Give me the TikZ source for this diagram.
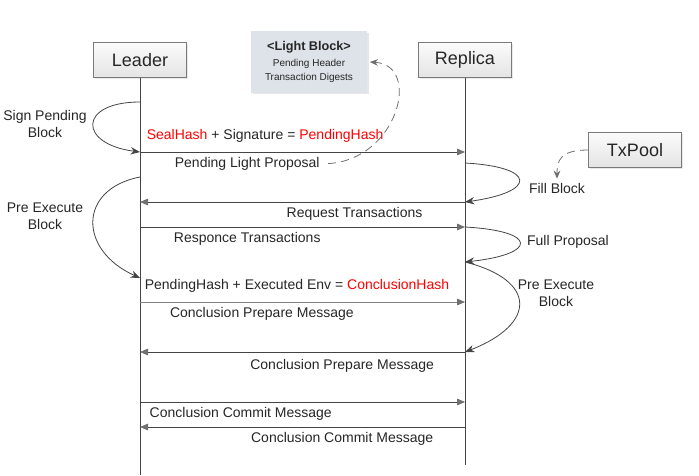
\documentclass[tikz,border=0pt]{standalone}
\usepackage{fontspec}
\setmainfont{Liberation Sans}
\usetikzlibrary{arrows.meta, shadows}
\definecolor{lineDark}{HTML}{444444}
\definecolor{headGray}{HTML}{707070}
\definecolor{boxEdge} {HTML}{7A7A7A}
\definecolor{boxTop}  {HTML}{FBFBFB}
\definecolor{boxBot}  {HTML}{E4E4E4}
\definecolor{lightBlk}{HTML}{DDE3E8}
\definecolor{hashRed} {HTML}{FF0000}
\definecolor{noteGray}{HTML}{6E6E6E}

\begin{document}
\begin{tikzpicture}[
    x=0.75pt, y=-0.75pt,
    every node/.style={font=\fontsize{10.5}{12.5}\selectfont, text=black!85},
    actor/.style={
        draw=boxEdge, top color=boxTop, bottom color=boxBot,
        minimum width=70pt, minimum height=26pt,
        font=\fontsize{13.5}{16}\selectfont,
        drop shadow={opacity=0.18, shadow xshift=1.2pt, shadow yshift=-1.2pt}
    },
    lifeline/.style={draw=lineDark, line width=0.6pt},
    msg/.style={-{Triangle[length=6pt, width=5pt, color=headGray]},
        draw=lineDark, line width=0.6pt},
    selfcall/.style={-{Stealth[length=7pt, width=5.5pt]},
        draw=lineDark, line width=0.6pt},
    note/.style={dash pattern=on 6pt off 4pt, draw=noteGray, line width=0.6pt,
        -{Stealth[length=6pt, width=5pt, color=noteGray]}},
    lbl/.style={align=center, inner sep=2pt},
    under/.style={lbl, below, yshift=-1.5pt},
    over/.style={lbl, above, yshift=5pt}
]

\useasboundingbox (0,0) rectangle (699,475);

% === ACTORS ===
\node[actor] (leader)  at (140,60) {Leader};
\node[actor] (replica) at (465,60) {Replica};
\node[actor] (txpool)  at (635,150) {TxPool};

\node[fill=lightBlk, minimum width=87pt, minimum height=46pt, align=center,
      drop shadow={opacity=0.2, shadow xshift=1.2pt, shadow yshift=-1.2pt}]
    (lightblock) at (309,62)
    {\fontsize{9.5}{11}\selectfont\bfseries <Light Block>\\[-1pt]
     \fontsize{7.5}{9}\selectfont Pending Header\\[-2pt]
     \fontsize{7.5}{9}\selectfont Transaction Digests};

% === LIFELINE POINTS ===
\foreach \n/\y in {a/102, b/152, c/177, d/202, e/227, f/278, g/302, h/352, i/402, j/427, end/475}
    \coordinate (L\n) at (140,\y);
\foreach \n/\y in {b/152, c/163, d/202, e/227, f/262, g/302, h/352, i/402, j/427, end/465}
    \coordinate (R\n) at (465,\y);

\draw[lifeline] (leader.south) -- (Lend);
\draw[lifeline] (replica.south) -- (Rend);

% ── SELF CALLS ─────────────────────────────────────────────────
\draw[selfcall] (La) .. controls +(-62,0) and +(-62,-8) .. (Lb);
\node[lbl] (signlbl) at (45,124) {Sign Pending\\Block};

\draw[selfcall] (Lc) .. controls +(-62,12) and +(-62,-28) .. (Lf);
\node[lbl] (preexecL) at (45,216) {Pre Execute\\Block};

\draw[selfcall] (Rc) .. controls +(72,4) and +(72,-10) .. (Rd);
\node[lbl] (filllbl) at (557,188) {Fill Block};

\draw[selfcall] (Re) .. controls +(73,4) and +(73,-8) .. (Rf);
\node[lbl] (fulllbl) at (568,242) {Full Proposal};

\draw[selfcall] (Rf) .. controls +(72,18) and +(72,-28) .. (Rh);
\node[lbl] (preexecR) at (556,293) {Pre Execute\\Block};

% ── MESSAGES ───────────────────────────────────────────────────
\draw[msg] (Lb) --
    node[over, pos=0.385]
        {\textcolor{hashRed}{SealHash} + Signature = \textcolor{hashRed}{PendingHash}}
    node[under, pos=0.33] (plp) {Pending Light Proposal}
    (Rb);

\draw[msg] (Rd) --
    node[under, pos=0.34] {Request Transactions}
    (Ld);

\draw[msg] (Le) --
    node[under, pos=0.33] {Responce Transactions}
    (Re);

\draw[msg, draw=gray] (Lg) --
    node[over, pos=0.483]
        {PendingHash + Executed Env = \textcolor{hashRed}{ConclusionHash}}
    node[under, pos=0.375] {Conclusion Prepare Message}
    (Rg);

\draw[msg] (Rh) --
    node[under, pos=0.378, yshift=-2pt] {Conclusion Prepare Message}
    (Lh);

\draw[msg] (Li) --
    node[under, pos=0.31] {Conclusion Commit Message}
    (Ri);

\draw[msg] (Rj) --
    node[under, pos=0.378] {Conclusion Commit Message}
    (Lj);

% ── NOTES ──────────────────────────────────────────────────────
\draw[note] ([xshift=4pt]plp.east) .. controls +(70,-4) and +(52,3) .. ([xshift=2pt]lightblock.east);
\draw[note] (txpool.west) .. controls +(-28,0) and +(0,-18) .. ([yshift=1pt]filllbl.north);

\end{tikzpicture}
\end{document}
